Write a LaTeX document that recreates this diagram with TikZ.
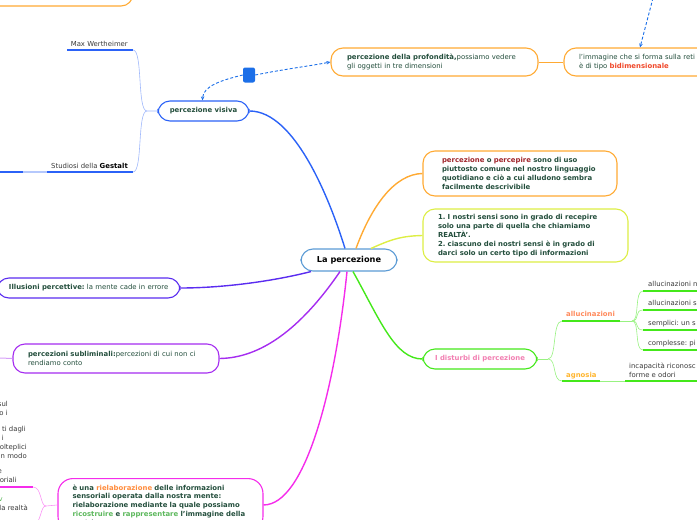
\documentclass[tikz,border=0pt]{standalone}
\usepackage{fontspec}
\setmainfont{DejaVu Sans}
\usetikzlibrary{arrows.meta}
\definecolor{mapink}{HTML}{234E3C}
\definecolor{mapgrey}{HTML}{3A3A3A}
\definecolor{mapblue}{HTML}{2B62F7}
\definecolor{mapsky}{HTML}{5B9BD5}
\definecolor{mapdash}{HTML}{1C6FE8}
\definecolor{maporange}{HTML}{FFAA33}
\definecolor{mapyellow}{HTML}{DDEE44}
\definecolor{mapgreen}{HTML}{44E81A}
\definecolor{mapindigo}{HTML}{5A2CF0}
\definecolor{mappurple}{HTML}{A52CF0}
\definecolor{maghot}{HTML}{F52CEB}
\definecolor{mapred}{HTML}{A0262C}
\definecolor{mapvermil}{HTML}{F0482A}
\definecolor{mapcarrot}{HTML}{FF8C3C}
\definecolor{mapleaf}{HTML}{5CB85C}
\definecolor{mapsalmon}{HTML}{FF8A5C}
\definecolor{mapamber}{HTML}{FFB52E}
\definecolor{mappink}{HTML}{F27FB2}
\newcommand\mapfont{\fontsize{6.9}{8.8}\selectfont\frenchspacing}

\begin{document}
\begin{tikzpicture}[
  x=1pt,
  y=-1pt,
  every node/.style={font=\mapfont, inner sep=0pt},
  topic/.style={draw, fill=white, rounded corners=12pt, line width=1.1pt, text=mapink, align=left},
  branch/.style={line width=1.4pt},
  twig/.style={line width=0.6pt},
  rule/.style={line width=1.3pt},
  leaf/.style={text=mapgrey, anchor=base east},
  link/.style={mapdash, line width=0.9pt, dash pattern=on 3pt off 2pt, -{Stealth[length=4pt,width=3.5pt]}}
]
  \useasboundingbox (0,0) rectangle (697,520);
  \clip (0,0) rectangle (697,520);

  \node[topic, draw=maporange, minimum width=193pt, minimum height=46pt] (topbox) at (36.5,-17) {};

  \node[topic, draw=mapsky, minimum width=96pt, minimum height=22pt, align=center,
        text=black, font=\fontsize{8.2}{10}\selectfont\bfseries] (root) at (349,260) {La percezione};

  \node[topic, draw=mapblue, minimum width=91pt, minimum height=20pt, align=center,
        font={\mapfont\bfseries}] (visiva) at (203.5,111) {percezione visiva};
  \node[topic, draw=maporange, text width=175pt, inner xsep=16pt, minimum height=28pt] (profond) at (434.5,62)
    {\textbf{percezione della profondità,}possiamo vedere\\gli oggetti in tre dimensioni};
  \node[topic, draw=maporange, text width=200pt, inner xsep=15pt, minimum height=28pt] (retina) at (679,62)
    {l'immagine che si forma sulla reti\\è di tipo \textbf{\textcolor{mapvermil}{bidimensionale}}};
  \node[fill=mapdash, rounded corners=2pt, minimum width=12pt, minimum height=15pt] (knot) at (249,75) {};

  \node[topic, draw=maporange, text width=156pt, inner xsep=19pt, minimum height=45pt,
        font={\mapfont\bfseries}] (percept) at (520,173.5)
    {\textcolor{mapred}{percezione} o \textcolor{mapred}{percepire} sono di uso\\
     piuttosto comune nel nostro linguaggio\\
     quotidiano e ciò a cui alludono sembra\\
     facilmente descrivibile};
  \node[topic, draw=mapyellow, text width=175pt, inner xsep=15pt, minimum height=53pt,
        font={\mapfont\bfseries}] (sensi) at (525.5,235.5)
    {1. I nostri sensi sono in grado di recepire\\
     solo una parte di quella che chiamiamo\\
     REALTÀ'.\\
     2. ciascuno dei nostri sensi è in grado di\\
     darci solo un certo tipo di informazioni};
  \node[topic, draw=mapgreen, minimum width=114pt, minimum height=20pt, align=center,
        text=mappink, font={\mapfont\bfseries}] (disturbi) at (480,359) {I disturbi di percezione};

  \node[topic, draw=mapindigo, text width=159pt, inner xsep=12pt, minimum height=20pt] (illus) at (88.5,288)
    {\mbox{\textbf{Illusioni percettive:} la mente cade in errore}};
  \node[topic, draw=mappurple, text width=176pt, inner xsep=15pt, minimum height=29pt] (sublim) at (116,358.5)
    {\textbf{percezioni subliminali:}percezioni di cui non ci\\rendiamo conto};
  \node[topic, draw=maghot, anchor=north, text width=176pt, inner xsep=14.5pt, inner ysep=6pt,
        rounded corners=15pt, font={\mapfont\bfseries}] (rielab) at (160.5,478)
    {è una \textcolor{mapcarrot}{rielaborazione} delle informazioni\\
     sensoriali operata dalla nostra mente:\\
     rielaborazione mediante la quale possiamo\\
     \textcolor{mapleaf}{ricostruire} e \textcolor{mapleaf}{rappresentare} l'immagine della\\
     realtà};

  \draw[branch, mapblue] (visiva.east) .. controls (295,111) and (330,200) .. ([xshift=-4pt]root.north);
  \draw[branch, maporange] ([xshift=7pt]root.north) .. controls (372,205) and (395,174) .. (percept.west);
  \draw[branch, mapyellow] ([xshift=22pt]root.north) .. controls (390,240) and (400,236) .. (sensi.west);
  \draw[branch, mapgreen] ([xshift=4pt]root.south) .. controls (380,320) and (395,359) .. (disturbi.west);
  \draw[branch, maghot] ([xshift=-2pt]root.south) .. controls (335,390) and (305,505) .. (rielab.east);
  \draw[branch, mappurple] ([xshift=-9pt]root.south) .. controls (300,330) and (260,358) .. (sublim.east);
  \draw[branch, mapindigo] ([xshift=-38pt]root.south) .. controls (270,282) and (220,288) .. (illus.east);

  \draw[link] (knot.west) .. controls (222,80) and (203,86) .. ([xshift=-1pt]visiva.north);
  \draw[link] (knot.east) .. controls (285,69) and (310,66) .. (profond.west);
  \coordinate (skyend) at (653,-2);
  \draw[link] (skyend) -- ([xshift=-39pt]retina.north);
  \draw[maporange, line width=1pt] (profond.east) -- (retina.west);

  \node[leaf] (wertheimer) at (128,46) {Max Wertheimer};
  \node[leaf] (gestalt) at (128,168) {Studiosi della \textcolor{black}{\textbf{Gestalt}}};
  \coordinate (mw) at (133,50);
  \coordinate (gs) at (133,172);
  \coordinate (vfork) at (147,111);
  \draw[rule, mapblue] (67,50) -- (mw);
  \draw[rule, mapblue] (0,172) -- (gs);
  \draw[rule, mapblue!35] (23,172) -- (47,172);
  \draw[twig, mapblue!45] (mw) .. controls (143,50) and (137,111) .. (vfork) -- (visiva.west);
  \draw[twig, mapblue!45] (gs) .. controls (143,172) and (137,111) .. (vfork);

  \coordinate (gfork) at (548,359);
  \coordinate (allu) at (562,321);
  \coordinate (agno) at (562,381);
  \coordinate (afork) at (632,321);
  \draw[twig, mapgreen!55] (disturbi.east) -- (gfork);
  \draw[twig, mapgreen!55] (gfork) .. controls (557,359) and (552,321) .. (allu);
  \draw[twig, mapgreen!55] (gfork) .. controls (557,359) and (552,381) .. (agno);
  \draw[rule, mapgreen] (allu) -- (620,321);
  \draw[twig, mapgreen!55] (620,321) -- (afork);
  \draw[rule, mapgreen] (agno) -- (600,381);
  \draw[twig, mapgreen!55] (600,381) -- (625,381);
  \draw[rule, mapgreen] (625,381) -- (697,381);
  \foreach \y in {291,310,330,350} {
    \draw[twig, mapgreen!55] (afork) .. controls (640,321) and (634,\y) .. (643,\y);
    \draw[rule, mapgreen] (643,\y) -- (697,\y);
  }
  \node[anchor=base west, text=mapsalmon, font={\mapfont\bfseries}] (allucin) at (566,316) {allucinazioni};
  \node[anchor=base west, text=mapamber, font={\mapfont\bfseries}] (agnosia) at (566,377) {agnosia};
  \node[anchor=base west, text=mapgrey] (alluneg) at (648,286) {allucinazioni n};
  \node[anchor=base west, text=mapgrey] (allusom) at (648,305) {allucinazioni s};
  \node[anchor=base west, text=mapgrey] (semplici) at (648,325) {semplici: un s};
  \node[anchor=base west, text=mapgrey] (complesse) at (648,345) {complesse: pi};
  \node[anchor=west, text=mapgrey, align=left] (incapace) at (629,370) {incapacità riconosc\\forme e odori};

  \draw[twig, mappurple!45, line width=1pt] (0,358) -- (sublim.west);

  \coordinate (mfork) at (46,506);
  \draw[rule, maghot] (0,487) -- (33,487);
  \draw[twig, maghot!50] (rielab.west) -- (mfork);
  \draw[twig, maghot!50] (mfork) .. controls (40,506) and (42,487) .. (33,487);
  \draw[twig, maghot!50] (mfork) .. controls (40,506) and (42,522) .. (33,526);

  \node[leaf] (cutA) at (8,406) {sul};
  \node[leaf] (cutB) at (8,415) {so i};
  \node[leaf] (cutC) at (26,431) {ti dagli};
  \node[leaf] (cutD) at (4,440) {i};
  \node[leaf] (cutE) at (27,449) {olteplici};
  \node[leaf] (cutF) at (27,458) {n modo};
  \node[leaf] (cutG) at (2,473) {e};
  \node[leaf] (cutH) at (17,482) {oriali};
  \node[leaf, text=mapleaf] (cutI) at (3,501) {v};
  \node[leaf] (cutJ) at (28,510) {la realtà};
\end{tikzpicture}
\end{document}
